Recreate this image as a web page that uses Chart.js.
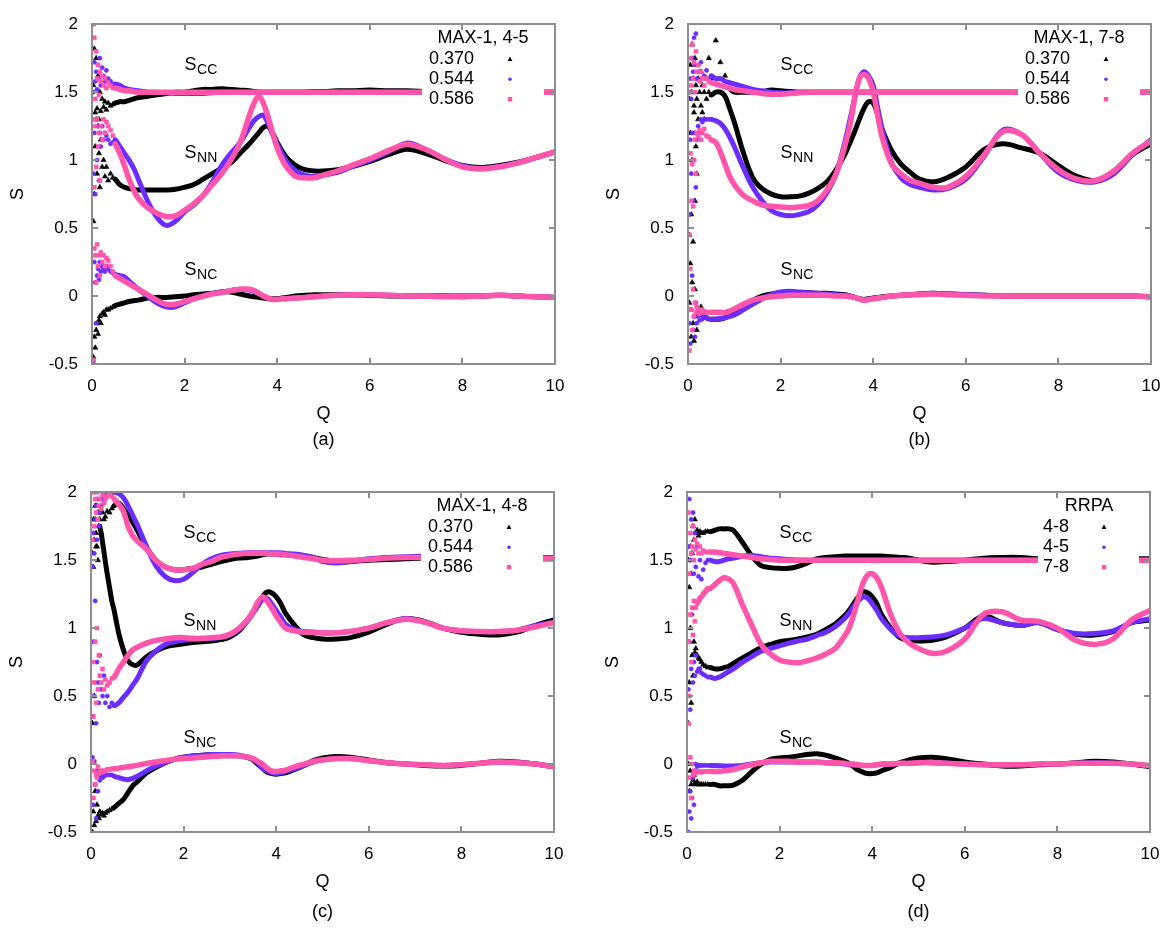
<!DOCTYPE html>
<html><head><meta charset="utf-8">
<script src="https://cdn.jsdelivr.net/npm/chart.js@4.4.1/dist/chart.umd.min.js"></script>
<style>
html,body{margin:0;padding:0;background:#fff;width:1173px;height:939px;overflow:hidden;position:relative;}
canvas{position:absolute;}
</style></head><body>
<canvas id="ca" width="586" height="469" style="left:0px;top:0px"></canvas>
<canvas id="cb" width="586" height="469" style="left:596px;top:0px"></canvas>
<canvas id="cc" width="586" height="469" style="left:-1px;top:468px"></canvas>
<canvas id="cd" width="586" height="469" style="left:595px;top:468px"></canvas>
<script>
// ---------- shared Q grids ----------
const qLow  = [0.03,0.05,0.07,0.09,0.11,0.13,0.15,0.17,0.19,0.22,0.25,0.28,0.31,0.35,0.4,0.45];
const qMain = [0.5,0.6,0.7,0.8,0.9,1.0,
               1.2,1.4,1.6,1.8,2.0,2.2,2.4,2.6,2.8,3.0,3.2,3.4,
               3.5,3.6,3.7,3.8,3.9,4.0,4.1,4.2,
               4.4,4.6,4.8,5.0,5.3,5.6,
               6.0,6.4,6.8,7.2,7.6,8.0,8.4,8.8,9.2,9.6,10.0];
const Q = qLow.concat(qMain);

const xTickStep = 2, xMin = 0, xMax = 10;
const yTickStep = 0.5, yMin = -0.5, yMax = 2;

const labelsMax  = ['0.370','0.544','0.586'];
const labelsRrpa = ['4-8','4-5','7-8'];

// ---------- panel (a): MAX-1, 4-5 ----------
const aCC1 = [1.55,1.82,1.35,1.75,1.38,1.62,1.30,1.50,1.36,1.45,1.39,1.43,1.37,1.42,1.40,1.41,
  1.42,1.43,1.43,1.44,1.45,1.46, 1.47,1.48,1.49,1.50,1.50,1.51,1.52,1.52,1.525,1.52,1.515,1.51,
  1.505,1.50,1.50,1.50,1.50,1.50,1.50,1.50, 1.50,1.50,1.505,1.505,1.51,1.51,
  1.515,1.51,1.51,1.505,1.50,1.50,1.50,1.50,1.50,1.50,1.50];
const aCC2 = [1.50,1.72,1.58,1.65,1.52,1.70,1.60,1.75,1.55,1.68,1.62,1.58,1.66,1.60,1.58,1.56,
  1.56,1.55,1.53,1.52,1.515,1.51, 1.50,1.50,1.495,1.49,1.49,1.49,1.49,1.495,1.50,1.50,1.50,1.50,
  1.5,1.5,1.5,1.5,1.5,1.5,1.5,1.5, 1.5,1.5,1.5,1.5,1.5,1.5,
  1.5,1.5,1.5,1.5,1.5,1.5,1.5,1.5,1.5,1.5,1.5];
const aCC3 = [2.00,1.90,1.45,1.80,1.60,1.70,1.48,1.65,1.58,1.62,1.55,1.60,1.53,1.57,1.55,1.53,
  1.53,1.52,1.51,1.51,1.505,1.50, 1.5,1.5,1.5,1.5,1.5,1.5,1.5,1.5,1.5,1.5,1.5,1.5,
  1.5,1.5,1.5,1.5,1.5,1.5,1.5,1.5, 1.5,1.5,1.5,1.5,1.5,1.5,
  1.5,1.5,1.5,1.5,1.5,1.5,1.5,1.5,1.5,1.5,1.5];
const aNN1 = [0.55,0.75,1.10,1.30,0.90,1.25,1.05,0.80,1.15,0.95,1.00,0.88,0.95,0.85,0.90,0.87,
  0.86,0.82,0.80,0.79,0.785,0.78, 0.78,0.78,0.78,0.785,0.80,0.82,0.86,0.90,0.94,0.98,1.05,1.12,
  1.16,1.20,1.24,1.25,1.20,1.13,1.07,1.02, 0.96,0.93,0.92,0.92,0.93,0.95,
  0.99,1.04,1.08,1.05,1.00,0.96,0.945,0.96,0.985,1.02,1.06];
const aNN2 = [0.90,1.20,0.75,1.30,1.00,1.25,0.85,1.20,1.10,1.25,1.15,1.20,1.18,1.15,1.12,1.13,
  1.15,1.10,1.05,1.00,0.94,0.86, 0.70,0.58,0.52,0.55,0.62,0.67,0.74,0.84,0.96,1.05,1.13,1.24,
  1.29,1.32,1.33,1.27,1.19,1.12,1.05,0.99, 0.92,0.89,0.88,0.89,0.91,0.95,
  1.00,1.06,1.125,1.08,1.01,0.96,0.94,0.955,0.98,1.02,1.06];
const aNN3 = [1.30,0.80,1.25,0.95,1.30,1.10,1.20,0.85,1.25,1.15,1.30,1.20,1.28,1.25,1.22,1.18,
  1.12,1.05,0.96,0.86,0.78,0.72, 0.65,0.61,0.585,0.59,0.63,0.68,0.74,0.82,0.90,1.00,1.13,1.33,
  1.42,1.47,1.42,1.32,1.20,1.09,1.01,0.95, 0.88,0.87,0.87,0.89,0.92,0.96,
  1.01,1.07,1.115,1.08,1.01,0.95,0.935,0.95,0.98,1.02,1.06];
const aNC1 = [-0.45,-0.30,-0.38,-0.25,-0.20,-0.28,-0.18,-0.15,-0.20,-0.13,-0.12,-0.14,-0.10,-0.10,-0.09,-0.08,
  -0.07,-0.06,-0.05,-0.04,-0.035,-0.03, -0.015,-0.01,-0.01,-0.005,0.00,0.01,0.015,0.02,0.03,0.03,0.015,0.00,
  -0.005,-0.01,-0.015,-0.02,-0.02,-0.02,-0.015,-0.01, 0.00,0.005,0.01,0.01,0.01,0.01,
  0.005,0.00,0.00,0.00,0.00,0.00,0.00,0.005,0.00,-0.005,-0.01];
const aNC2 = [-0.48,0.25,0.10,-0.20,0.15,0.20,0.12,0.25,0.18,0.22,0.20,0.18,0.22,0.20,0.18,0.17,
  0.16,0.15,0.14,0.11,0.08,0.05, 0.00,-0.05,-0.08,-0.08,-0.05,-0.02,0.00,0.02,0.03,0.04,0.05,0.045,
  0.035,0.02,0.00,-0.015,-0.025,-0.025,-0.02,-0.02, -0.015,-0.01,-0.005,0.00,0.005,0.01,
  0.01,0.005,0.00,0.00,0.00,-0.005,0.00,0.005,0.00,-0.005,-0.01];
const aNC3 = [-0.47,0.35,0.30,0.10,0.38,0.22,0.30,0.15,0.32,0.25,0.30,0.22,0.28,0.26,0.22,0.18,
  0.15,0.13,0.11,0.09,0.07,0.05, 0.01,-0.03,-0.06,-0.06,-0.04,-0.02,0.00,0.015,0.025,0.04,0.05,0.05,
  0.04,0.02,0.00,-0.015,-0.025,-0.025,-0.02,-0.02, -0.015,-0.01,-0.005,0.00,0.005,0.01,
  0.01,0.005,0.00,0.00,-0.005,-0.005,0.00,0.005,0.00,-0.005,-0.01];

// ---------- panel (b): MAX-1, 7-8 ----------
const bCC1 = [1.45,1.70,1.50,1.85,1.60,1.40,1.75,1.55,1.45,1.60,1.50,1.65,1.55,1.50,1.60,1.75,
  1.60,1.88,1.72,1.62,1.53,1.50, 1.50,1.50,1.505,1.515,1.51,1.505,1.50,1.50,1.50,1.50,1.50,1.50,
  1.5,1.5,1.5,1.5,1.5,1.5,1.5,1.5, 1.5,1.5,1.5,1.5,1.5,1.5,
  1.5,1.5,1.5,1.5,1.5,1.5,1.5,1.5,1.5,1.5,1.5];
const bCC2 = [1.50,1.60,1.45,1.75,1.65,1.90,1.70,1.93,1.60,1.70,1.65,1.72,1.60,1.62,1.66,1.60,
  1.62,1.60,1.60,1.58,1.57,1.56, 1.54,1.52,1.51,1.50,1.495,1.495,1.50,1.50,1.50,1.50,1.50,1.50,
  1.5,1.5,1.5,1.5,1.5,1.5,1.5,1.5, 1.5,1.5,1.5,1.5,1.5,1.5,
  1.5,1.5,1.5,1.5,1.5,1.5,1.5,1.5,1.5,1.5,1.5];
const bCC3 = [1.50,1.75,1.55,1.85,1.60,1.72,1.50,1.80,1.65,1.70,1.58,1.65,1.60,1.55,1.60,1.58,
  1.57,1.56,1.55,1.54,1.53,1.52, 1.51,1.50,1.49,1.485,1.485,1.49,1.495,1.50,1.50,1.50,1.50,1.50,
  1.5,1.5,1.5,1.5,1.5,1.5,1.5,1.5, 1.5,1.5,1.5,1.5,1.5,1.5,
  1.5,1.5,1.5,1.5,1.5,1.5,1.5,1.5,1.5,1.5,1.5];
const bNN1 = [0.45,1.20,0.60,1.00,0.40,1.35,0.70,1.10,0.90,1.30,1.20,1.40,1.35,1.30,1.45,1.50,
  1.48,1.50,1.50,1.47,1.38,1.28, 1.05,0.87,0.79,0.75,0.73,0.73,0.735,0.755,0.79,0.84,0.93,1.05,
  1.13,1.21,1.30,1.38,1.43,1.42,1.33,1.22, 1.07,0.97,0.91,0.86,0.84,0.87,
  0.95,1.08,1.12,1.09,1.05,0.96,0.88,0.85,0.92,1.04,1.12];
const bNN2 = [0.60,1.15,0.90,1.20,0.70,1.00,1.20,0.80,1.15,1.25,1.20,1.30,1.28,1.30,1.30,1.30,
  1.30,1.29,1.27,1.23,1.17,1.10, 0.94,0.80,0.70,0.63,0.60,0.59,0.60,0.62,0.67,0.76,0.90,1.15,
  1.30,1.46,1.60,1.65,1.62,1.55,1.38,1.22, 0.98,0.87,0.82,0.80,0.78,0.79,
  0.86,1.03,1.22,1.19,1.05,0.91,0.85,0.84,0.90,1.04,1.15];
const bNN3 = [0.45,1.05,0.70,0.97,0.66,1.00,1.15,0.90,1.20,1.18,1.22,1.15,1.20,1.23,1.18,1.17,
  1.15,1.13,1.06,0.97,0.88,0.82, 0.74,0.70,0.67,0.66,0.655,0.65,0.655,0.665,0.70,0.78,0.90,1.12,
  1.26,1.45,1.60,1.63,1.60,1.50,1.32,1.16, 0.97,0.90,0.85,0.83,0.80,0.80,
  0.88,1.04,1.21,1.19,1.05,0.93,0.86,0.85,0.92,1.05,1.14];
const bNC1 = [-0.05,0.24,-0.30,0.10,-0.20,-0.33,0.05,-0.15,-0.25,-0.10,-0.12,-0.08,-0.14,-0.12,-0.16,-0.17,
  -0.17,-0.17,-0.17,-0.16,-0.14,-0.12, -0.07,-0.03,0.00,0.015,0.025,0.025,0.025,0.025,0.02,0.02,0.015,0.01,
  0.00,-0.01,-0.02,-0.025,-0.02,-0.015,-0.01,-0.005, 0.00,0.005,0.01,0.015,0.02,0.015,
  0.01,0.005,0.00,0.00,0.00,0.00,0.00,0.00,0.00,0.00,-0.005];
const bNC2 = [-0.20,-0.35,-0.10,0.15,-0.25,-0.15,-0.30,-0.05,-0.20,-0.15,-0.18,-0.13,-0.17,-0.15,-0.16,-0.17,
  -0.17,-0.17,-0.165,-0.16,-0.15,-0.14, -0.10,-0.06,-0.02,0.01,0.03,0.035,0.03,0.025,0.02,0.015,0.01,0.005,
  0.00,-0.01,-0.02,-0.03,-0.025,-0.02,-0.015,-0.01, 0.00,0.005,0.01,0.015,0.02,0.015,
  0.01,0.005,0.00,0.00,0.00,0.00,0.00,0.00,0.00,0.00,-0.005];
const bNC3 = [-0.40,0.20,-0.10,-0.25,0.05,-0.15,-0.05,-0.12,-0.08,-0.10,-0.13,-0.10,-0.12,-0.11,-0.12,-0.12,
  -0.12,-0.12,-0.12,-0.12,-0.11,-0.095, -0.06,-0.03,-0.015,-0.005,0.00,0.005,0.005,0.005,0.005,0.005,0.00,0.00,
  -0.005,-0.01,-0.02,-0.03,-0.025,-0.02,-0.015,-0.01, 0.00,0.005,0.01,0.01,0.015,0.01,
  0.005,0.00,0.00,0.00,0.00,0.00,0.00,0.00,0.00,0.00,-0.005];

// ---------- panel (c): MAX-1, 4-8 ----------
const cCC1 = [1.55,1.80,1.65,1.90,1.70,1.60,1.85,1.75,1.80,1.70,1.85,1.80,1.82,1.86,1.85,1.88,
  1.90,1.92,1.88,1.83,1.78,1.72, 1.59,1.50,1.45,1.43,1.43,1.44,1.45,1.47,1.49,1.505,1.515,1.52,
  1.525,1.53,1.54,1.545,1.545,1.545,1.54,1.54, 1.535,1.53,1.52,1.505,1.49,1.49,
  1.50,1.505,1.51,1.515,1.515,1.51,1.51,1.51,1.51,1.51,1.51];
const cCC2 = [1.45,1.70,1.55,1.80,1.90,1.65,1.95,1.75,1.85,1.90,1.95,1.92,1.98,1.97,2.00,1.99,
  2.00,1.99,1.96,1.90,1.83,1.76, 1.60,1.46,1.38,1.35,1.36,1.41,1.47,1.51,1.535,1.545,1.55,1.555,
  1.555,1.555,1.555,1.555,1.555,1.555,1.555,1.55, 1.545,1.535,1.52,1.49,1.48,1.49,
  1.51,1.52,1.525,1.53,1.53,1.525,1.525,1.52,1.52,1.52,1.52];
const cCC3 = [1.65,2.00,1.75,1.95,1.85,2.00,1.80,1.90,1.95,1.88,1.98,1.92,1.95,1.97,1.98,1.97,
  1.95,1.91,1.86,1.75,1.68,1.64, 1.58,1.50,1.45,1.43,1.43,1.44,1.47,1.49,1.52,1.535,1.545,1.55,
  1.55,1.55,1.55,1.55,1.545,1.545,1.545,1.54, 1.53,1.52,1.51,1.50,1.495,1.50,
  1.505,1.515,1.52,1.52,1.52,1.515,1.515,1.51,1.51,1.51,1.51];
const cNN1 = [0.30,1.45,0.50,1.80,1.60,1.90,1.50,1.85,1.75,1.70,1.63,1.56,1.49,1.40,1.30,1.20,
  1.13,0.96,0.84,0.76,0.73,0.73, 0.79,0.83,0.86,0.875,0.885,0.895,0.90,0.905,0.915,0.935,0.98,1.07,
  1.12,1.18,1.23,1.265,1.26,1.23,1.18,1.11, 1.02,0.95,0.93,0.92,0.92,0.93,
  0.97,1.03,1.07,1.05,1.00,0.97,0.955,0.95,0.97,1.02,1.06];
const cNN2 = [0.35,0.90,0.50,1.20,0.30,0.75,0.60,0.45,0.80,0.55,0.50,0.65,0.45,0.50,0.42,0.45,
  0.43,0.45,0.49,0.53,0.58,0.63, 0.76,0.83,0.88,0.90,0.91,0.915,0.92,0.925,0.93,0.95,0.99,1.06,
  1.11,1.16,1.21,1.22,1.18,1.13,1.08,1.03, 0.99,0.975,0.97,0.965,0.965,0.975,
  1.00,1.04,1.07,1.045,1.00,0.98,0.975,0.975,0.985,1.02,1.04];
const cNN3 = [0.75,0.35,0.60,0.90,0.45,1.00,0.55,0.80,0.65,0.60,0.70,0.55,0.62,0.58,0.60,0.63,
  0.64,0.70,0.75,0.80,0.84,0.86, 0.89,0.91,0.92,0.93,0.93,0.925,0.925,0.93,0.935,0.955,1.00,1.07,
  1.12,1.19,1.23,1.20,1.15,1.09,1.04,1.00, 0.98,0.97,0.97,0.965,0.965,0.975,
  1.00,1.04,1.065,1.045,1.00,0.98,0.975,0.975,0.985,1.01,1.04];
const cNC1 = [-0.50,-0.35,-0.45,-0.20,-0.42,-0.30,-0.38,-0.40,-0.35,-0.37,-0.36,-0.38,-0.36,-0.35,-0.34,-0.33,
  -0.32,-0.29,-0.26,-0.21,-0.16,-0.13, -0.065,-0.025,0.01,0.035,0.05,0.06,0.065,0.07,0.07,0.065,0.06,0.045,
  0.03,0.00,-0.03,-0.06,-0.07,-0.075,-0.07,-0.065, -0.04,-0.01,0.025,0.045,0.055,0.05,
  0.03,0.01,0.00,-0.01,-0.015,-0.01,0.005,0.02,0.015,0.00,-0.02];
const cNC2 = [0.05,-0.30,0.02,-0.15,-0.40,-0.05,-0.20,-0.10,-0.12,-0.08,-0.10,-0.09,-0.08,-0.08,-0.08,-0.08,
  -0.09,-0.10,-0.11,-0.115,-0.105,-0.09, -0.05,-0.015,0.01,0.035,0.05,0.06,0.065,0.07,0.07,0.07,0.065,0.05,
  0.035,0.01,-0.03,-0.05,-0.065,-0.07,-0.065,-0.055, -0.035,-0.01,0.015,0.03,0.04,0.04,
  0.025,0.01,0.00,-0.005,-0.01,-0.005,0.005,0.015,0.01,0.00,-0.02];
const cNC3 = [0.02,-0.25,-0.05,-0.15,-0.08,-0.10,-0.02,-0.07,-0.06,-0.05,-0.06,-0.05,-0.05,-0.04,-0.04,-0.035,
  -0.035,-0.03,-0.025,-0.02,-0.015,-0.01, 0.005,0.015,0.025,0.035,0.04,0.045,0.05,0.055,0.06,0.06,0.06,0.05,
  0.04,0.02,0.00,-0.03,-0.05,-0.055,-0.05,-0.045, -0.02,0.00,0.02,0.03,0.04,0.04,
  0.025,0.01,0.00,-0.005,-0.01,-0.005,0.005,0.015,0.01,0.00,-0.02];

// ---------- panel (d): RRPA ----------
const dCC1 = [1.50,1.30,1.60,1.40,1.55,1.75,1.65,1.80,1.70,1.72,1.68,1.71,1.70,1.70,1.71,1.71,
  1.71,1.72,1.73,1.73,1.73,1.72, 1.63,1.53,1.46,1.445,1.44,1.44,1.455,1.48,1.51,1.52,1.525,1.53,
  1.53,1.53,1.53,1.53,1.53,1.53,1.53,1.53, 1.525,1.52,1.515,1.50,1.485,1.49,
  1.50,1.515,1.52,1.52,1.51,1.505,1.505,1.505,1.51,1.51,1.51];
const dCC2 = [1.60,1.95,1.50,1.80,1.55,1.85,1.40,1.70,1.45,1.60,1.38,1.50,1.36,1.43,1.48,1.50,
  1.50,1.49,1.49,1.50,1.51,1.515, 1.53,1.535,1.525,1.515,1.51,1.505,1.50,1.50,1.50,1.50,1.50,1.50,
  1.5,1.5,1.5,1.5,1.5,1.5,1.5,1.5, 1.5,1.5,1.5,1.5,1.5,1.5,
  1.5,1.5,1.5,1.5,1.5,1.5,1.5,1.5,1.5,1.5,1.5];
const dCC3 = [1.85,1.40,1.70,1.55,1.60,1.75,1.50,1.65,1.58,1.62,1.55,1.60,1.55,1.57,1.56,1.56,
  1.56,1.56,1.555,1.55,1.545,1.54, 1.53,1.52,1.51,1.505,1.50,1.50,1.50,1.50,1.50,1.50,1.50,1.50,
  1.5,1.5,1.5,1.5,1.5,1.5,1.5,1.5, 1.5,1.5,1.5,1.5,1.5,1.5,
  1.5,1.5,1.5,1.5,1.5,1.5,1.5,1.5,1.5,1.5,1.5];
const dNN1 = [0.30,0.60,1.00,0.45,0.80,0.65,0.90,0.82,0.85,0.80,0.78,0.77,0.75,0.73,0.72,0.71,
  0.71,0.70,0.70,0.71,0.72,0.74, 0.78,0.82,0.855,0.88,0.90,0.91,0.92,0.935,0.955,0.99,1.03,1.09,
  1.13,1.18,1.23,1.265,1.26,1.23,1.18,1.10, 1.00,0.93,0.91,0.905,0.91,0.935,
  1.00,1.09,1.04,1.02,1.04,0.99,0.955,0.95,0.975,1.04,1.06];
const dNN2 = [0.55,0.90,0.40,0.70,1.10,0.60,0.75,0.65,0.80,0.68,0.70,0.70,0.67,0.66,0.65,0.64,
  0.64,0.63,0.64,0.66,0.68,0.70, 0.75,0.79,0.83,0.85,0.87,0.89,0.905,0.92,0.945,0.97,1.01,1.07,
  1.11,1.16,1.20,1.23,1.22,1.18,1.13,1.07, 0.99,0.94,0.93,0.93,0.935,0.95,
  1.00,1.07,1.04,1.02,1.04,0.99,0.96,0.96,0.98,1.04,1.07];
const dNN3 = [0.90,0.50,1.10,0.75,1.15,0.95,1.20,1.05,1.15,1.18,1.20,1.22,1.23,1.25,1.27,1.29,
  1.29,1.32,1.35,1.37,1.36,1.33, 1.17,1.02,0.88,0.81,0.765,0.75,0.745,0.76,0.78,0.81,0.85,0.94,
  1.00,1.10,1.22,1.33,1.39,1.40,1.37,1.30, 1.10,0.96,0.89,0.85,0.815,0.83,
  0.92,1.10,1.12,1.06,1.05,1.00,0.91,0.88,0.92,1.06,1.13];
const dNC1 = [0.00,-0.20,-0.05,-0.15,-0.10,-0.12,-0.08,-0.14,-0.15,-0.13,-0.15,-0.15,-0.15,-0.15,-0.15,-0.15,
  -0.15,-0.15,-0.16,-0.16,-0.16,-0.155, -0.12,-0.055,0.00,0.035,0.045,0.05,0.06,0.07,0.075,0.065,0.045,0.02,
  0.005,-0.02,-0.045,-0.06,-0.07,-0.07,-0.065,-0.05, -0.025,0.01,0.03,0.045,0.05,0.04,
  0.015,0.00,-0.015,-0.015,-0.005,0.00,0.01,0.02,0.015,0.00,-0.02];
const dNC2 = [-0.50,-0.35,-0.20,-0.40,-0.25,-0.10,-0.30,-0.05,0.00,-0.02,-0.01,-0.01,-0.01,-0.01,-0.01,-0.01,
  -0.01,-0.01,-0.012,-0.015,-0.015,-0.015, -0.01,0.00,0.01,0.015,0.015,0.015,0.015,0.015,0.015,0.01,0.005,0.00,
  -0.005,-0.01,-0.01,-0.01,-0.01,-0.01,-0.005,0.00, 0.00,0.005,0.005,0.01,0.01,0.005,
  0.00,-0.005,-0.01,-0.005,0.00,0.00,0.005,0.01,0.005,0.00,-0.015];
const dNC3 = [0.30,-0.10,0.05,-0.25,0.00,-0.08,-0.05,-0.07,-0.06,-0.06,-0.055,-0.055,-0.06,-0.055,-0.055,-0.055,
  -0.055,-0.055,-0.055,-0.05,-0.045,-0.04, -0.02,-0.005,0.01,0.02,0.02,0.02,0.015,0.015,0.015,0.01,0.01,0.005,
  0.00,0.00,-0.005,-0.01,-0.01,-0.01,-0.005,0.00, 0.00,0.005,0.005,0.01,0.01,0.005,
  0.00,-0.005,-0.005,-0.005,0.00,0.00,0.005,0.005,0.005,0.00,-0.01];

// ---------- styling (Q from which each curve is drawn as a continuous band) ----------
const startsA = [[0.5,0.5,0.5],[0.5,0.5,0.5],[0.5,0.5,0.5]];
const startsB = [[0.9,0.5,0.5],[0.5,0.5,0.5],[0.5,0.5,0.5]];
const startsC = [[0.5,0.5,0.5],[0.19,0.5,0.5],[0.5,0.5,0.5]];
const startsD = [[0.5,0.5,0.5],[0.5,0.5,0.25],[0.5,0.5,0.5]];

const FONT = 'Liberation Sans, Arial, Helvetica, sans-serif';
const FRAME_COLOR = '#8e8e8e';
const seriesStyle = [
  {color:'#000000', point:'triangle', r:3.0, order:3, w:5},
  {color:'#6a2cff', point:'circle',   r:2.1, order:2, w:5},
  {color:'#ff55aa', point:'rect',     r:2.8, order:1, w:5.5}
];
const tags = [{q:2.0, s:1.70, sub:'CC'}, {q:2.0, s:1.05, sub:'NN'}, {q:2.0, s:0.19, sub:'NC'}];

function buildDatasets(groups, starts) {
  const ds = [];
  groups.forEach((group, g) => group.forEach((vals, s) => {
    const st = seriesStyle[s];
    const from = starts[g][s];
    const n = Math.min(vals.length, Q.length);
    const data = [];
    for (let i = 0; i < n; i++) data.push({x: Q[i], y: vals[i]});
    ds.push({
      data, showLine: true,
      borderColor: st.color, backgroundColor: st.color, borderWidth: st.w,
      pointStyle: st.point,
      pointRadius: c => (c.raw && c.raw.x < from - 0.001) ? st.r : 0,
      pointHoverRadius: 0, pointBorderWidth: 0.6, pointBorderColor: st.color,
      tension: 0.35,
      borderJoinStyle: 'round', borderCapStyle: 'round',
      segment: { borderColor: c => (c.p0.parsed.x < from - 0.001) ? 'rgba(0,0,0,0)' : st.color },
      order: st.order
    });
  }));
  return ds;
}

function drawMarker(ctx, s, x, y) {
  const st = seriesStyle[s];
  ctx.fillStyle = st.color;
  ctx.beginPath();
  if (s === 0) { ctx.moveTo(x, y - 2.6); ctx.lineTo(x + 2.4, y + 1.8); ctx.lineTo(x - 2.4, y + 1.8); ctx.closePath(); ctx.fill(); }
  else if (s === 1) { ctx.arc(x, y, 1.8, 0, Math.PI * 2); ctx.fill(); }
  else { ctx.fillRect(x - 2.2, y - 2.2, 4.4, 4.4); }
}

function drawFrame(chart) {
  const ctx = chart.ctx, ca = chart.chartArea;
  const xs = chart.scales.x, ys = chart.scales.y;
  const L = Math.round(ca.left) - 1, R = Math.round(ca.right) - 1;
  const T = Math.round(ca.top) - 1, B = Math.round(ca.bottom) - 1;
  ctx.save();
  ctx.globalAlpha = 1;
  ctx.globalCompositeOperation = 'source-over';
  ctx.fillStyle = FRAME_COLOR;
  ctx.fillRect(L, T, R - L + 2, 2);
  ctx.fillRect(L, B, R - L + 2, 2);
  ctx.fillRect(L, T, 2, B - T + 2);
  ctx.fillRect(R, T, 2, B - T + 2);
  xs.ticks.forEach(tk => {
    const px = Math.round(xs.getPixelForValue(tk.value));
    ctx.fillRect(px - 1, B - 5, 2, 5);
    ctx.fillRect(px - 1, T + 2, 2, 5);
  });
  ys.ticks.forEach(tk => {
    const py = Math.round(ys.getPixelForValue(tk.value));
    ctx.fillRect(L + 2, py - 1, 5, 2);
    ctx.fillRect(R - 5, py - 1, 5, 2);
  });
  ctx.restore();
}

const overlay = {
  id: 'overlay',
  afterDatasetsDraw(chart) {
    const o = chart.options.plugins.overlay;
    const ctx = chart.ctx, ca = chart.chartArea;
    const xs = chart.scales.x, ys = chart.scales.y;
    ctx.save();
    const K = o.key;
    ctx.fillStyle = '#ffffff';
    ctx.fillRect(ca.right - K.boxLeft, ca.top + 1, K.boxLeft - 11, 86);
    ctx.fillStyle = '#000';
    ctx.font = '18px ' + FONT;
    ctx.textBaseline = 'middle';
    ctx.textAlign = 'center';
    ctx.fillText(o.title, ca.right - K.titleOff, ca.top + 14);
    ctx.textAlign = 'right';
    o.labels.forEach((lab, i) => {
      const yy = ca.top + 35 + 20 * i;
      ctx.fillStyle = '#000';
      ctx.fillText(lab, ca.right - K.labelOff, yy);
      drawMarker(ctx, i, ca.right - K.markOff, yy);
    });
    ctx.fillStyle = '#000';
    ctx.textAlign = 'left';
    tags.forEach(tg => {
      const px = xs.getPixelForValue(tg.q), py = ys.getPixelForValue(tg.s);
      ctx.font = '18px ' + FONT;
      ctx.fillText('S', px, py);
      const w = ctx.measureText('S').width;
      ctx.font = '14px ' + FONT;
      ctx.fillText(tg.sub, px + w + 0.5, py + 5);
    });
    ctx.restore();
  },
  afterDraw(chart) {
    const o = chart.options.plugins.overlay;
    const ctx = chart.ctx, ca = chart.chartArea;
    drawFrame(chart);
    ctx.save();
    ctx.fillStyle = '#000';
    ctx.font = '18px ' + FONT;
    ctx.textAlign = 'center';
    ctx.textBaseline = 'middle';
    ctx.fillText(o.caption, (ca.left + ca.right) / 2, o.captionY);
    ctx.restore();
  }
};

const tickFmt = v => String(Math.round(v * 10) / 10);

function makeChart(id, groups, starts, title, labels, key, caption, captionY) {
  return new Chart(document.getElementById(id), {
    type: 'scatter',
    data: { datasets: buildDatasets(groups, starts) },
    plugins: [overlay],
    options: {
      responsive: false, animation: false, devicePixelRatio: 1, events: [],
      layout: { padding: { left: 0, top: 11, right: 31, bottom: 0 } },
      plugins: {
        legend: { display: false }, tooltip: { enabled: false },
        overlay: { title, labels, key, caption, captionY }
      },
      scales: {
        x: {
          type: 'linear', min: xMin, max: xMax,
          ticks: { stepSize: xTickStep, callback: tickFmt, color: '#000', font: { family: FONT, size: 17 }, padding: 12, maxRotation: 0, autoSkip: false },
          grid: { display: false, drawTicks: false }, border: { display: false },
          title: { display: true, text: 'Q', color: '#000', font: { family: FONT, size: 18 }, padding: { top: 0, bottom: 44 } },
          afterFit: s => { s.height = 105; }
        },
        y: {
          type: 'linear', min: yMin, max: yMax,
          ticks: { stepSize: yTickStep, callback: tickFmt, color: '#000', font: { family: FONT, size: 17 }, padding: 14, autoSkip: false },
          grid: { display: false, drawTicks: false }, border: { display: false },
          title: { display: true, text: 'S', color: '#000', font: { family: FONT, size: 18 }, padding: { top: 7, bottom: 0 } },
          afterFit: s => { s.width = 92; }
        }
      }
    }
  });
}

const keyMax  = { boxLeft: 133, titleOff: 72, labelOff: 81, markOff: 45 };
const keyRrpa = { boxLeft: 112, titleOff: 61, labelOff: 81, markOff: 46 };

makeChart('ca', [[aCC1,aCC2,aCC3],[aNN1,aNN2,aNN3],[aNC1,aNC2,aNC3]], startsA, 'MAX-1, 4-5', labelsMax, keyMax, '(a)', 440);
makeChart('cb', [[bCC1,bCC2,bCC3],[bNN1,bNN2,bNN3],[bNC1,bNC2,bNC3]], startsB, 'MAX-1, 7-8', labelsMax, keyMax, '(b)', 440);
makeChart('cc', [[cCC1,cCC2,cCC3],[cNN1,cNN2,cNN3],[cNC1,cNC2,cNC3]], startsC, 'MAX-1, 4-8', labelsMax, keyMax, '(c)', 444);
makeChart('cd', [[dCC1,dCC2,dCC3],[dNN1,dNN2,dNN3],[dNC1,dNC2,dNC3]], startsD, 'RRPA', labelsRrpa, keyRrpa, '(d)', 444);
</script>
</body></html>
